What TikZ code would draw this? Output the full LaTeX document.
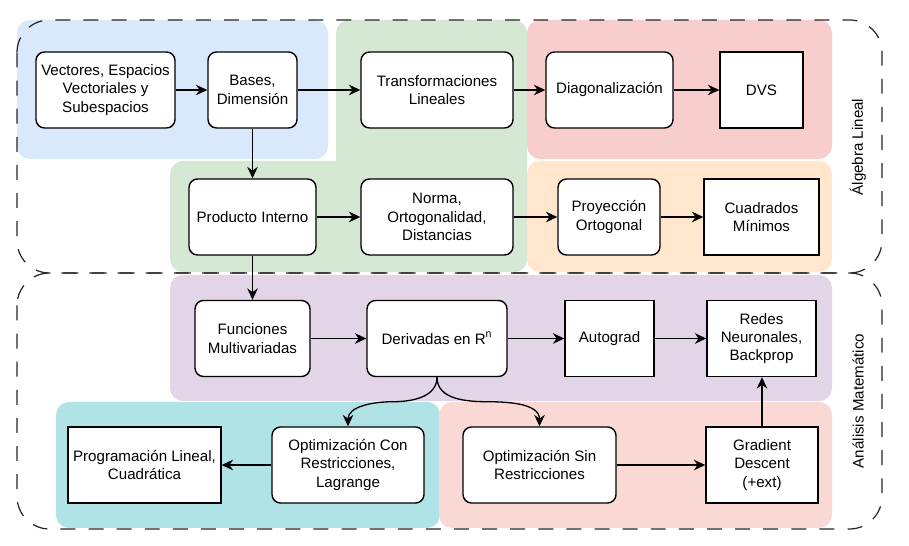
\documentclass[tikz,border=0pt]{standalone}
\usepackage{fontspec}
\setmainfont{Liberation Sans}
\usetikzlibrary{arrows.meta,calc}
\definecolor{cblue}{HTML}{DAE8FC}
\definecolor{cgreen}{HTML}{D5E8D4}
\definecolor{cred}{HTML}{F8CECC}
\definecolor{corange}{HTML}{FFE6CC}
\definecolor{cpurple}{HTML}{E1D5E7}
\definecolor{cteal}{HTML}{B0E3E6}
\definecolor{cpink}{HTML}{FAD9D5}
\begin{document}
\begin{tikzpicture}[x=0.02cm,y=-0.02cm,
  every node/.style={font=\fontsize{8.6}{10.4}\selectfont},
  region/.style={rounded corners=0.26cm},
  group/.style={draw=black!85, line width=0.7pt, dash pattern=on 8.5pt off 7.5pt, rounded corners=0.65cm},
  rbox/.style={draw=black, fill=white, line width=0.8pt, rounded corners=0.17cm, align=center, inner sep=0pt, minimum height=1.52cm},
  sbox/.style={draw=black, fill=white, line width=0.8pt, align=center, inner sep=0pt, minimum height=1.52cm},
  arr/.style={draw, line width=0.75pt, -{Stealth[length=6.5pt,width=6pt]}},
  glabel/.style={rotate=90}]
\useasboundingbox (0,0) rectangle (909,546);
% coloured regions
\fill[cblue, region] (17,20) rectangle (328,159);
\fill[cgreen, region] (336,20) rectangle (527,272);
\fill[cgreen, region] (170,161) rectangle (527,272);
\fill[cred, region] (527,20) rectangle (832,159);
\fill[corange, region] (527,161) rectangle (832,272);
\fill[cpurple, region] (170,275) rectangle (832,401);
\fill[cteal, region] (56,402) rectangle (440,528);
\fill[cpink, region] (439,402) rectangle (832,528);
% dashed groups
\draw[group] (17,20) rectangle (882,273);
\draw[group] (17,273) rectangle (882,529);
\node[glabel] (lal) at (858,147) {Álgebra Lineal};
\node[glabel] (lam) at (858,401) {Análisis Matemático};
% nodes
\node[rbox, minimum width=2.78cm] (vec) at (105.5,90) {Vectores, Espacios\\Vectoriales y\\Subespacios};
\node[rbox, minimum width=1.78cm] (bas) at (252.5,90) {Bases,\\Dimensión};
\node[rbox, minimum width=3.04cm] (tra) at (437,90) {Transformaciones\\Lineales};
\node[rbox, minimum width=2.54cm] (dia) at (609.5,90) {Diagonalización};
\node[sbox, minimum width=1.66cm] (dvs) at (761.5,90) {DVS};
\node[rbox, minimum width=2.54cm] (pro) at (252.5,217) {Producto Interno};
\node[rbox, minimum width=3.04cm] (nor) at (437,217) {Norma,\\Ortogonalidad,\\Distancias};
\node[rbox, minimum width=2.04cm] (pry) at (609,217) {Proyección\\Ortogonal};
\node[sbox, minimum width=2.3cm] (cua) at (761.5,217) {Cuadrados\\Mínimos};
\node[rbox, minimum width=2.3cm] (fun) at (252.5,338.5) {Funciones\\Multivariadas};
\node[rbox, minimum width=2.8cm] (der) at (437,338.5) {Derivadas en R\textsuperscript{n}};
\node[sbox, minimum width=1.78cm] (aut) at (609.5,338.5) {Autograd};
\node[sbox, minimum width=2.18cm] (red) at (761.5,338.5) {Redes\\Neuronales,\\Backprop};
\node[sbox, minimum width=3.06cm] (prg) at (144.5,465) {Programación Lineal,\\Cuadrática};
\node[rbox, minimum width=3.04cm] (ocon) at (348,465) {Optimización Con\\Restricciones,\\Lagrange};
\node[rbox, minimum width=3.06cm] (osin) at (539.5,465) {Optimización Sin\\Restricciones};
\node[sbox, minimum width=2.24cm] (gra) at (762,465) {Gradient\\Descent\\(+ext)};
% connectors
\draw[arr] (vec) -- (bas);
\draw[arr] (bas) -- (tra);
\draw[arr] (tra) -- (dia);
\draw[arr] (dia) -- (dvs);
\draw[arr] (bas) -- (pro);
\draw[arr] (pro) -- (nor);
\draw[arr] (nor) -- (pry);
\draw[arr] (pry) -- (cua);
\draw[arr] (pro) -- (fun);
\draw[arr] (fun) -- (der);
\draw[arr] (der) -- (aut);
\draw[arr] (aut) -- (red);
\draw[arr] (ocon) -- (prg);
\draw[arr] (osin) -- (gra);
\draw[arr] (gra.north) -- (gra.north |- red.south);
\coordinate (m1) at ($(der.south)!0.5!(ocon.north)$);
\coordinate (m2) at ($(der.south)!0.5!(osin.north)$);
\draw[arr] (der.south) to[out=-90,in=0] (m1) to[out=180,in=90] (ocon.north);
\draw[arr] (der.south) to[out=-90,in=180] (m2) to[out=0,in=90] (osin.north);
\end{tikzpicture}
\end{document}
